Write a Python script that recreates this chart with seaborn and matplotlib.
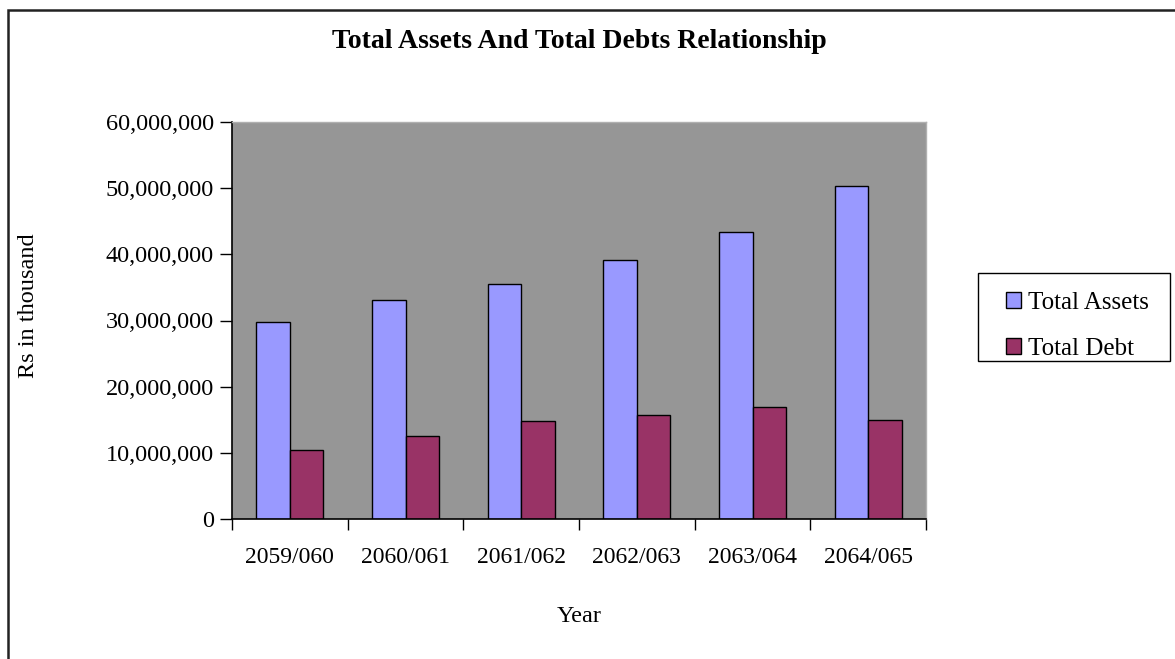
import matplotlib
matplotlib.use("Agg")
import matplotlib.pyplot as plt
import matplotlib.ticker as mticker
from matplotlib.patches import Rectangle
import pandas as pd
import seaborn as sns

years = ["2059/060", "2060/061", "2061/062", "2062/063", "2063/064", "2064/065"]
total_assets = [29_700_000, 33_070_000, 35_480_000, 39_200_000, 43_430_000, 50_380_000]
total_debt = [10_370_000, 12_530_000, 14_750_000, 15_750_000, 16_960_000, 14_950_000]
series_names = ["Total Assets", "Total Debt"]
y_ticks = [0, 10_000_000, 20_000_000, 30_000_000, 40_000_000, 50_000_000, 60_000_000]

df = pd.DataFrame({
    "Year": years * 2,
    "Value": total_assets + total_debt,
    "Series": [series_names[0]] * len(years) + [series_names[1]] * len(years),
})

sns.set_style("white")
plt.rcParams["font.family"] = ["Liberation Serif", "DejaVu Serif"]
plt.rcParams.update({"text.color": "black", "axes.labelcolor": "black",
                     "xtick.color": "black", "ytick.color": "black"})

W, H = 1175, 659
fig = plt.figure(figsize=(W / 100, H / 100), dpi=100)
fig.patch.set_facecolor("white")

# plot area in pixel coordinates
left, right, top, bottom = 232, 926, 122, 519
ax = fig.add_axes([left / W, 1 - bottom / H, (right - left) / W, (bottom - top) / H])
ax.set_facecolor("#969696")

palette = {"Total Assets": "#9999FF", "Total Debt": "#993366"}
sns.barplot(data=df, x="Year", y="Value", hue="Series", palette=palette,
            width=0.58, gap=0, edgecolor="black", linewidth=1.0,
            saturation=1, ax=ax, legend=True)

ax.set_ylim(0, 60_000_000)
ax.set_xlim(-0.5, len(years) - 0.5)
ax.set_yticks(y_ticks)
ax.yaxis.set_major_formatter(mticker.FuncFormatter(lambda v, p: f"{int(v):,}"))
ax.set_xticks(range(len(years)))
ax.set_xticklabels(years)
ax.set_xlabel("")
ax.set_ylabel("")

# category-boundary ticks on x
ax.xaxis.set_minor_locator(mticker.FixedLocator([i - 0.5 for i in range(len(years) + 1)]))
ax.tick_params(axis="x", which="major", bottom=True, length=0, pad=20, labelsize=17,
               labelcolor="black")
ax.tick_params(axis="x", which="minor", bottom=True, length=8, width=1, color="black",
               direction="out")
ax.tick_params(axis="y", which="major", left=True, length=9, width=1, color="black",
               direction="out", pad=4, labelsize=17.5, labelcolor="black")

for side in ["left", "bottom"]:
    ax.spines[side].set_color("black")
    ax.spines[side].set_linewidth(1.2)
for side in ["top", "right"]:
    ax.spines[side].set_color("#b0b0b0")
    ax.spines[side].set_linewidth(1.0)

# legend entries with a separately drawn box around them
handles, labels = ax.get_legend_handles_labels()
ax.get_legend().remove()
leg = fig.legend(handles, labels, loc="upper left",
                 bbox_to_anchor=(1006 / W, 1 - 292 / H),
                 frameon=False, fontsize=18, handlelength=0.6, handleheight=0.6,
                 handletextpad=0.3, labelspacing=0.95, borderpad=0,
                 borderaxespad=0, labelcolor="black")
for h in leg.legend_handles:
    h.set_edgecolor("black")
    h.set_linewidth(1.0)
fig.patches.append(Rectangle((978 / W, 1 - 361 / H), (1170 - 978) / W, (361 - 273) / H,
                             transform=fig.transFigure, fill=False,
                             edgecolor="black", linewidth=1.0))

fig.text((left + right) / 2 / W, 1 - 41 / H, "Total Assets And Total Debts Relationship",
         ha="center", va="center", fontsize=20, fontweight="bold", color="black")
fig.text((left + right) / 2 / W, 1 - 616 / H, "Year", ha="center", va="center",
         fontsize=17.5, color="black")
fig.text(29 / W, 1 - 306 / H, "Rs in thousand", ha="center", va="center",
         rotation=90, fontsize=17.5, color="black")

# outer chart border
fig.patches.append(Rectangle((8 / W, -0.05), 1.1, 1 - 10 / H + 0.05,
                             transform=fig.transFigure, fill=False,
                             edgecolor="#222222", linewidth=1.8, clip_on=False))

fig.savefig("out.png", dpi=100)
